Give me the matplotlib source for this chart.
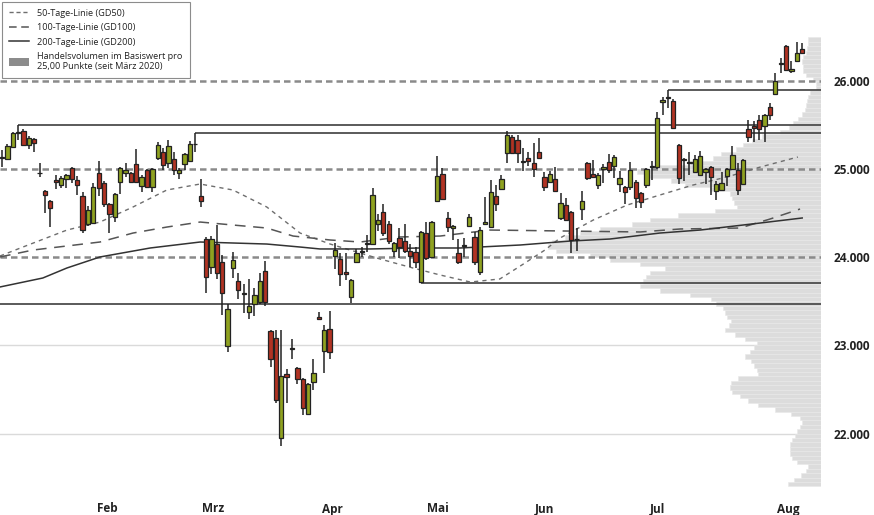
import matplotlib
matplotlib.use("Agg")
import matplotlib.pyplot as plt
from matplotlib.lines import Line2D
from matplotlib.patches import Patch
import numpy as np

plt.rcParams['font.family'] = ['Open Sans', 'DejaVu Sans']

# ---------------- data ----------------
opens = [25130, 25119, 25255, 25415, 25437, 25278, 25347, 24960, 24755, 24642,
         24880, 24824, 24892, 25017, 24880, 24699, 24381, 24392, 24960, 24846,
         24608, 24460, 24858, 24960, 24960, 25062, 24812, 24994, 24801, 25131,
         25199, 25074, 25119, 24960, 25062, 25096, 25285, 24699, 24210, 23892,
         24153, 23949, 22994, 23881, 23733, 23585, 23381, 23471, 23494, 23846,
         23164, 23085, 21949, 22676, 22960, 22744, 22619, 22221, 22585, 23324,
         22937, 23187, 24017, 23983, 23835, 23551, 23949, 24060, 24150, 24153,
         24381, 24517, 24381, 24074, 24221, 24187, 24074, 24062, 23721, 24278,
         24006, 24642, 24949, 24449, 24335, 24051, 24130, 24358, 24233, 23835,
         24381, 24346, 24699, 24778, 25187, 25369, 25335, 25085, 25131, 25074,
         25199, 24915, 24858, 24892, 24449, 24596, 24517, 24205, 24551, 25074,
         24949, 24824, 25005, 25085, 25040, 24835, 24801, 24801, 24858, 24733,
         24824, 25025, 25028, 25767, 25810, 25778, 25278, 25105, 25070, 24971,
         24937, 24971, 25028, 24755, 24767, 24926, 25005, 24994, 24835, 25460,
         25494, 25562, 25494, 25710, 25858, 26195, 26403, 26119, 26233, 26369]
highs = [25221, 25290, 25426, 25506, 25460, 25381, 25358, 25074, 24765, 24653,
         24937, 24926, 24945, 25025, 24926, 24744, 24585, 24846, 25096, 24869,
         24620, 24733, 25025, 25074, 24971, 25233, 24937, 25005, 25017, 25312,
         25244, 25335, 25199, 25017, 25187, 25324, 25415, 24892, 24233, 24244,
         24369, 24028, 23471, 24062, 23824, 23699, 23756, 23653, 23824, 23960,
         23176, 23176, 23176, 22733, 23074, 22755, 22630, 22575, 22846, 23380,
         23233, 23392, 24165, 24051, 24051, 23756, 24097, 24119, 24256, 24790,
         24494, 24608, 24415, 24176, 24335, 24381, 24153, 24119, 24301, 24403,
         24410, 25153, 25017, 24517, 24365, 24210, 24221, 24494, 24290, 24346,
         24688, 24880, 24824, 24937, 25437, 25392, 25392, 25244, 25199, 25301,
         25358, 24971, 24983, 25028, 24733, 24676, 24525, 24335, 24755, 25085,
         25108, 24960, 25062, 25176, 25165, 24983, 24810, 25085, 24880, 24740,
         25017, 25096, 25653, 25824, 25903, 25801, 25285, 25131, 25199, 25165,
         25210, 25017, 25035, 24869, 24971, 25017, 25267, 25074, 25115, 25562,
         25551, 25619, 25625, 25756, 26096, 26267, 26410, 26233, 26449, 26437]
lows = [25028, 25108, 25244, 25335, 25270, 25233, 25199, 24915, 24505, 24346,
        24778, 24790, 24790, 24846, 24710, 24278, 24358, 24381, 24699, 24574,
        24278, 24403, 24721, 24915, 24846, 24846, 24744, 24790, 24744, 25108,
        24994, 25017, 24937, 24892, 24994, 25085, 25199, 24574, 23596, 23812,
        23756, 23346, 22926, 23767, 23528, 23369, 23301, 23335, 23471, 23449,
        22756, 22346, 21858, 22346, 22846, 22562, 22210, 22210, 22494, 23290,
        22687, 22846, 23869, 23676, 23744, 23483, 23940, 24006, 24062, 24142,
        24301, 24244, 24153, 24006, 23994, 24051, 23892, 23881, 23710, 23971,
        23995, 24630, 24653, 24290, 24199, 23926, 24006, 24346, 23915, 23801,
        24370, 24335, 24528, 24767, 25074, 25180, 25074, 24983, 25040, 24915,
        25119, 24756, 24846, 24750, 24426, 24415, 24051, 24074, 24426, 24880,
        24903, 24778, 24846, 24960, 24903, 24744, 24608, 24767, 24562, 24562,
        24790, 24880, 25005, 25619, 25699, 25465, 24835, 24869, 24937, 24960,
        24926, 24835, 24710, 24653, 24755, 24812, 24994, 24710, 24830, 25312,
        25312, 25335, 25312, 25562, 25850, 26096, 26125, 26096, 26225, 26312]
closes = [25135, 25267, 25415, 25420, 25278, 25358, 25301, 24955, 24710, 24562,
          24858, 24903, 24937, 24892, 24824, 24312, 24540, 24801, 24790, 24608,
          24494, 24721, 25017, 24994, 24858, 24858, 24915, 24801, 25005, 25278,
          25051, 25267, 24994, 24994, 25176, 25290, 25295, 24642, 23778, 24210,
          23824, 23596, 23415, 23971, 23630, 23590, 23449, 23574, 23733, 23494,
          22846, 22380, 22653, 22642, 22965, 22619, 22289, 22562, 22687, 23301,
          23176, 22926, 24085, 23812, 23812, 23744, 24051, 24065, 24155, 24710,
          24426, 24278, 24187, 24165, 24119, 24074, 24017, 23949, 24290, 23994,
          24403, 24926, 24665, 24346, 24358, 23949, 24135, 24460, 23949, 24312,
          24403, 24744, 24608, 24892, 25392, 25187, 25187, 25090, 25096, 25005,
          25131, 24801, 24949, 24755, 24619, 24426, 24199, 24210, 24642, 24903,
          24915, 24937, 25028, 24994, 25142, 24903, 24744, 24994, 24676, 24630,
          25005, 25030, 25585, 25790, 25815, 25471, 24903, 25110, 25075, 25119,
          25153, 25005, 24915, 24835, 24846, 25005, 25165, 24767, 25108, 25369,
          25471, 25460, 25619, 25619, 26006, 26200, 26131, 26142, 26324, 26324]

# moving averages (sample points: candle index, value)
gd50_x = [-0.37, 3.9, 12.1, 18.25, 24.4, 30.7, 36.9, 43.0, 49.3, 55.5, 61.1, 64.8,
          70.4, 76.5, 81.6, 87.2, 92.7, 96.5, 101.1, 103.9, 110.1, 116.4, 122.5,
          128.7, 135.0, 141.2, 148.2]
gd50_y = [24017, 24119, 24312, 24403, 24574, 24767, 24835, 24767, 24574, 24278, 24153,
          24085, 23983, 23881, 23801, 23721, 23756, 23903, 24085, 24221, 24426, 24596,
          24710, 24824, 24915, 25028, 25142]
gd100_x = [-0.37, 5.8, 12.1, 18.25, 24.4, 30.7, 36.9, 43.0, 49.3, 54.2, 61.1, 66.7,
           74.1, 81.6, 90.9, 104.8, 118.8, 126.3, 137.4, 143.0, 148.6]
gd100_y = [24006, 24085, 24131, 24176, 24278, 24346, 24403, 24369, 24335, 24244, 24199,
           24176, 24233, 24244, 24312, 24301, 24290, 24324, 24335, 24437, 24551]
gd200_x = [-0.37, 7.6, 12.1, 18.25, 27.6, 36.9, 49.3, 55.5, 59.2, 68.5, 77.8, 85.3,
           96.5, 105.8, 113.2, 122.5, 130.0, 141.2, 149.0]
gd200_y = [23665, 23767, 23881, 24006, 24108, 24176, 24153, 24119, 24097, 24097, 24108,
           24108, 24142, 24187, 24210, 24278, 24312, 24392, 24449]

# horizontal support / resistance lines: (start candle index, level)
sr_start = [3, 36, 124, 78, None]
sr_level = [25506, 25415, 25903, 23710, 23471]

# volume profile per 50 points (lower bin edge 21400 ... 26450), relative volume
vp_step = 50
vp_start = 21400
vp_vals = [33, 27, 20, 15, 13, 24, 29, 31, 31, 31, 29, 26,
           24, 21, 19, 21, 30, 46, 63, 73, 81, 89, 91, 90, 83, 63, 64, 67, 70, 76, 71, 67,
           64, 76, 86, 96, 92, 90, 94, 96, 98, 105, 110, 131, 161, 181, 178, 175, 171, 156, 181, 211,
           231, 265, 273, 269, 256, 241, 221, 189, 171, 143, 106, 84, 87, 89, 91, 111, 136, 150, 176, 184,
           166, 131, 108, 100, 85, 78, 69, 59, 41, 32, 28, 23, 19, 16, 15, 14, 13, 11, 5, 5,
           8, 15, 18, 18, 19, 18, 15, 14, 13, 13]

month_labels = ['Feb', 'Mrz', 'Apr', 'Mai', 'Jun', 'Jul', 'Aug']
month_pos = [19.7, 39.3, 61.6, 81.2, 101.1, 122.0, 146.4]

y_ticks = [22000, 23000, 24000, 25000, 26000]
dashed_levels = [24000, 25000, 26000]
light_levels = [22000, 23000]

# ---------------- figure ----------------
W, H = 874, 515
fig = plt.figure(figsize=(W / 100, H / 100), dpi=100)
fig.patch.set_facecolor('white')
rect = [0, (H - 490) / H, 821 / W, 490 / H]
ylim = (21358, 26926)
xlim = (-0.37, 152.5)

# background axes: light grid + volume profile
axp = fig.add_axes(rect)
axp.set_ylim(*ylim)
axp.set_xlim(821, 0)
for v in light_levels:
    axp.axhline(v, color='#dadada', lw=1.0, zorder=0)
vp_levels = vp_start + vp_step * np.arange(len(vp_vals))
axp.barh(vp_levels + vp_step / 2, vp_vals, height=vp_step, color='#dcdcdc',
         edgecolor='#e8e8e8', linewidth=0.4, zorder=1)
axp.set_xticks([])
axp.set_yticks([])
for s in axp.spines.values():
    s.set_visible(False)

# main axes
ax = fig.add_axes(rect)
ax.patch.set_visible(False)
ax.set_xlim(*xlim)
ax.set_ylim(*ylim)

for v in dashed_levels:
    ax.axhline(v, color='#8a8a8a', lw=1.8, ls=(0, (2.6, 1.6)), zorder=1)

for st, lv in zip(sr_start, sr_level):
    x0 = xlim[0] if st is None else st
    ax.hlines(lv, x0, xlim[1], color='#4d4d4d', lw=1.3, zorder=2)

ax.plot(gd50_x, gd50_y, color='#6e6e6e', lw=1.0, ls=(0, (3, 3)), zorder=2.5)
ax.plot(gd100_x, gd100_y, color='#555555', lw=1.1, ls=(0, (7, 5)), zorder=2.5)
ax.plot(gd200_x, gd200_y, color='#333333', lw=1.1, zorder=2.5)

idx = np.arange(len(opens))
o = np.array(opens, float)
c = np.array(closes, float)
hi = np.array(highs, float)
lo = np.array(lows, float)
up = c >= o
cols = np.where(up, '#8fa220', '#b13323')
ax.vlines(idx, lo, hi, color='#222222', lw=1.1, zorder=3)
body_h = np.maximum(np.abs(c - o), 10)
ax.bar(idx, body_h, bottom=np.minimum(o, c), width=0.8, color=cols,
       edgecolor='#222222', linewidth=0.9, zorder=4)

# ticks
ax.set_xticks(month_pos)
ax.set_xticklabels(month_labels, fontsize=8.5, fontweight='bold', color='#222222')
ax.tick_params(axis='x', length=0, pad=9)
ax.yaxis.tick_right()
ax.set_yticks(y_ticks)
ax.set_yticklabels([f"{v:,}".replace(',', '.') for v in y_ticks],
                   fontsize=8.5, fontweight='bold', color='#222222')
ax.tick_params(axis='y', length=0, pad=9)
for s in ax.spines.values():
    s.set_visible(False)

handles = [
    Line2D([], [], color='#6e6e6e', lw=1.0, ls=(0, (3, 2))),
    Line2D([], [], color='#555555', lw=1.1, ls=(0, (5, 3))),
    Line2D([], [], color='#333333', lw=1.1),
    Patch(facecolor='#8c8c8c', edgecolor='none'),
]
labels = ['50-Tage-Linie (GD50)', '100-Tage-Linie (GD100)', '200-Tage-Linie (GD200)',
          'Handelsvolumen im Basiswert pro\n25,00 Punkte (seit März 2020)']
leg = ax.legend(handles, labels, loc='upper left', bbox_to_anchor=(2 / 821, 1 - 2 / 490),
                fontsize=6.6, frameon=True, fancybox=False, framealpha=1,
                edgecolor='#8c8c8c', borderpad=0.75, handlelength=2.2,
                handleheight=1.0, labelspacing=0.55, handletextpad=0.9,
                borderaxespad=0)
leg.get_frame().set_linewidth(0.8)
for t in leg.get_texts():
    t.set_color('#222222')
leg.set_zorder(10)

fig.savefig('out.png', dpi=100, facecolor='white')
